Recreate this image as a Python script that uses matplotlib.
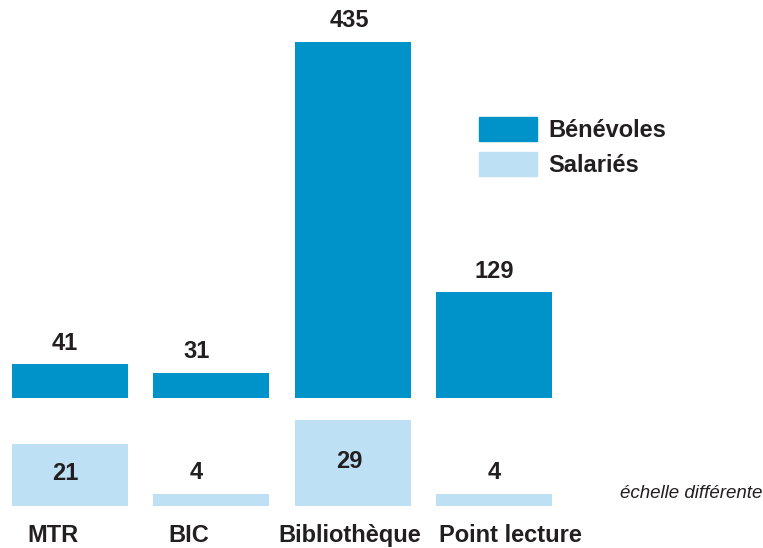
import matplotlib
matplotlib.use("Agg")
import matplotlib.pyplot as plt
from matplotlib.patches import Patch

plt.rcParams['font.family'] = ['Liberation Sans', 'DejaVu Sans']

# données
categories = ['MTR', 'BIC', 'Bibliothèque', 'Point lecture']
benevoles = [41, 31, 435, 129]
salaries = [21, 4, 29, 4]

# décalages horizontaux des textes (px), comme sur l'original
label_shift = [-17, -23, -3, 16]
value_shift = [-5, -15, -3, 0]

dark = '#0093c9'
light = '#bde0f5'
txt = '#231f20'

W, H = 763, 548
fig = plt.figure(figsize=(W / 100, H / 100), dpi=100)

x_scale = 141.33          # px par catégorie
x0 = 70                   # centre de la 1re barre en px
xlim = (-x0 / x_scale, (W - x0) / x_scale)
bar_w = 116 / x_scale
pos = list(range(len(categories)))

# axe du haut : Bénévoles
top_base = 398
ax1 = fig.add_axes([0, (H - top_base) / H, 1, top_base / H])
ax1.bar(pos, benevoles, width=bar_w, color=dark)
ax1.set_xlim(*xlim)
ax1.set_ylim(0, 435 * top_base / 356)
for x, v, s in zip(pos, benevoles, value_shift):
    ax1.annotate(str(v), (x, v), xytext=(s * 0.72, 7), textcoords='offset points',
                 ha='center', va='bottom', fontsize=17, fontweight='bold', color=txt)

# axe du bas : Salariés (échelle différente)
bot_base = 506
ax2 = fig.add_axes([0, (H - bot_base) / H, 1, (bot_base - top_base) / H])
ax2.bar(pos, salaries, width=bar_w, color=light)
ax2.set_xlim(*xlim)
ax2.set_ylim(0, (bot_base - top_base) / 2.97)
for x, v, s in zip(pos, salaries, value_shift):
    if v > 10:
        ax2.annotate(str(v), (x, v / 2), xytext=(s * 0.72, 1), textcoords='offset points',
                     ha='center', va='center', fontsize=17, fontweight='bold', color=txt)
    else:
        ax2.annotate(str(v), (x, v), xytext=(s * 0.72, 7), textcoords='offset points',
                     ha='center', va='bottom', fontsize=17, fontweight='bold', color=txt)

# libellés des catégories
for x, c, s in zip(pos, categories, label_shift):
    ax2.annotate(c, (x, 0), xytext=(s * 0.72, -13), textcoords='offset points',
                 ha='center', va='top', fontsize=17, fontweight='bold', color=txt,
                 annotation_clip=False)

for ax in (ax1, ax2):
    ax.set_xticks([])
    ax.set_yticks([])
    for sp in ax.spines.values():
        sp.set_visible(False)
    ax.patch.set_alpha(0)

fig.text(0.906, 1 - 494 / H, 'échelle différente', ha='center', va='center',
         fontsize=13.5, style='italic', color=txt)

handles = [Patch(color=dark, label='Bénévoles'), Patch(color=light, label='Salariés')]
fig.legend(handles=handles, loc='upper left', bbox_to_anchor=(479 / W, 1 - 117 / H),
           frameon=False, prop={'weight': 'bold', 'size': 17},
           handlelength=2.46, handleheight=1.18, handletextpad=0.47,
           labelspacing=0.42, borderpad=0, borderaxespad=0, labelcolor=txt)

fig.savefig('out.png', dpi=100)
